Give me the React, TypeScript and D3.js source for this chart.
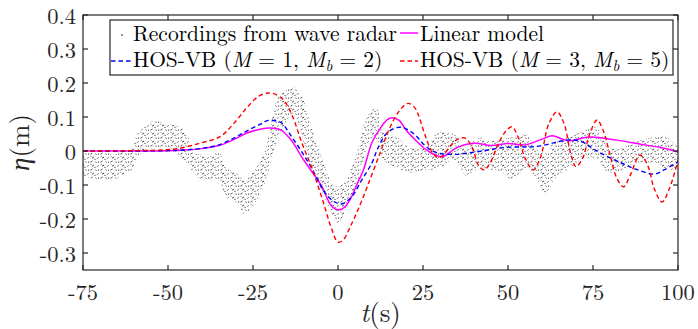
import React from "react";
import * as d3 from "d3";

// ---- data ----
const xTicks = [-75, -50, -25, 0, 25, 50, 75, 100];
const yTicks = [-0.3, -0.2, -0.1, 0, 0.1, 0.2, 0.3, 0.4];
const yTickLabels = ["-0.3", "-0.2", "-0.1", "0", "0.1", "0.2", "0.3", "0.4"];

// recordings from wave radar: envelope of the measured band
const recTime = [-75, -72, -69, -66, -63, -61, -59, -57, -54, -52, -50, -48, -46, -44, -42.5, -40, -37, -35, -33, -30, -27.5, -25, -23, -21.5, -19.5, -17.5, -15, -13.5, -12, -10.5, -7.5, -4.5, -2, 0, 2, 4, 6, 8, 10, 11.5, 13, 15, 17.5, 21, 24, 26, 28, 30, 32, 34, 36, 38, 40, 42, 45, 48, 51, 53, 55.5, 58, 61, 63.5, 67.5, 72, 75.5, 77.5, 79.5, 83.5, 87.5, 92.5, 96, 98, 100];
const recUpper = [0.0, -0.005, 0.0, -0.01, 0.0, 0.005, 0.05, 0.07, 0.09, 0.085, 0.08, 0.075, 0.07, 0.04, -0.005, -0.01, -0.01, 0.0, -0.05, -0.06, -0.085, -0.06, -0.03, 0.0, 0.09, 0.16, 0.18, 0.19, 0.18, 0.16, 0.06, -0.025, -0.09, -0.105, -0.09, -0.05, 0.01, 0.09, 0.12, 0.125, 0.06, 0.05, 0.04, 0.01, 0.01, 0.01, 0.04, 0.06, 0.055, 0.05, 0.03, 0.01, 0.03, 0.04, 0.03, 0.035, 0.04, 0.045, 0.05, 0.01, -0.005, 0.025, 0.04, 0.06, 0.07, 0.05, 0.01, 0.01, 0.03, 0.04, 0.045, 0.03, 0.01];
const recLower = [-0.075, -0.08, -0.085, -0.085, -0.07, -0.06, -0.02, 0.0, 0.01, 0.01, 0.01, 0.0, -0.02, -0.04, -0.065, -0.085, -0.085, -0.085, -0.135, -0.15, -0.185, -0.16, -0.13, -0.095, -0.025, 0.04, 0.09, 0.11, 0.09, 0.04, -0.05, -0.125, -0.18, -0.215, -0.18, -0.135, -0.085, -0.005, 0.04, 0.03, -0.02, -0.04, -0.05, -0.065, -0.06, -0.055, -0.055, -0.05, -0.035, -0.025, -0.05, -0.075, -0.06, -0.05, -0.055, -0.06, -0.085, -0.07, -0.05, -0.075, -0.125, -0.085, -0.055, -0.025, -0.02, -0.04, -0.065, -0.055, -0.035, -0.035, -0.05, -0.055, -0.055];

// linear model
const linTime = [-75, -60, -50, -45, -40, -35, -31, -27, -23, -20, -17, -14, -10, -5, -2, 0, 2, 3.5, 5.5, 7.5, 10, 12.5, 14.5, 16, 18, 20, 22, 26, 29.5, 31, 35, 40, 45, 50, 55, 60, 63, 66, 68, 74, 82, 89, 95, 100];
const linEta = [0, 0, 0.001, 0.003, 0.007, 0.016, 0.032, 0.052, 0.064, 0.068, 0.063, 0.035, -0.028, -0.1, -0.16, -0.173, -0.165, -0.144, -0.1, -0.055, 0.025, 0.068, 0.092, 0.098, 0.09, 0.062, 0.04, 0.003, -0.015, -0.016, 0.01, 0.023, 0.016, 0.022, 0.018, 0.035, 0.045, 0.035, 0.03, 0.041, 0.032, 0.02, 0.01, -0.003];

// HOS-VB (M = 1, Mb = 2)
const hos1Time = [-75, -60, -50, -45, -40, -35, -31, -27, -23, -20.5, -18, -16.5, -13.5, -10.5, -7.5, -4, -1, 1.2, 4, 7, 10, 11.5, 14.4, 18.2, 22, 26, 29, 34, 39, 44, 48.5, 53.5, 57, 61, 65, 68.5, 72, 75.6, 79.4, 84.4, 88, 93, 96, 100];
const hos1Eta = [0, 0, 0.001, 0.003, 0.008, 0.018, 0.036, 0.058, 0.078, 0.09, 0.088, 0.082, 0.04, -0.005, -0.055, -0.12, -0.15, -0.155, -0.135, -0.085, -0.035, 0.003, 0.053, 0.07, 0.053, 0.012, -0.005, -0.01, -0.005, 0.003, 0.01, 0.012, 0.012, 0.018, 0.028, 0.033, 0.026, 0.003, -0.017, -0.04, -0.055, -0.068, -0.055, -0.032];

// HOS-VB (M = 3, Mb = 5)
const hos3Time = [-75, -60, -50, -46.5, -40.6, -34.7, -30.9, -27, -23.5, -21, -19.4, -16.2, -13.5, -10.6, -7.5, -4.5, -2, 0, 1.5, 3.5, 6, 8.8, 12.4, 15.3, 18.2, 20.6, 22.6, 25.6, 27.5, 29.4, 31, 33, 35.3, 37.4, 39.5, 41.2, 43, 45, 47, 49.5, 51.2, 53, 55, 57.4, 59.5, 62, 64.4, 66.5, 68.5, 70, 72, 74, 76.2, 78, 80, 82, 84, 86, 88.8, 91, 93, 95.3, 97.5, 100];
const hos3Eta = [0, 0.001, 0.004, 0.008, 0.023, 0.042, 0.078, 0.125, 0.16, 0.17, 0.17, 0.152, 0.105, 0.023, -0.055, -0.145, -0.225, -0.268, -0.262, -0.225, -0.17, -0.1, -0.005, 0.07, 0.12, 0.14, 0.127, 0.047, 0.0, -0.02, -0.012, 0.015, 0.035, 0.038, 0.01, -0.04, -0.056, -0.03, 0.018, 0.06, 0.071, 0.04, -0.02, -0.056, -0.02, 0.08, 0.115, 0.08, -0.01, -0.046, -0.02, 0.05, 0.091, 0.06, -0.01, -0.08, -0.105, -0.07, -0.012, -0.04, -0.11, -0.15, -0.11, -0.027];

// ---- layout ----
const W = 698, H = 329;
const L = 83, R = 678, T = 15, B = 270;
const FONT = '"Latin Modern Roman"';
const AX = "#262626";

export default function App() {
  const x = d3.scaleLinear().domain([-75, 100]).range([L, R]);
  const y = d3.scaleLinear().domain([-0.35, 0.4]).range([B, T]);

  const lineGen = d3
    .line<[number, number]>()
    .x((d) => x(d[0]))
    .y((d) => y(d[1]))
    .curve(d3.curveCatmullRom.alpha(0.5));

  const zip = (t: number[], v: number[]) => t.map((ti, i) => [ti, v[i]] as [number, number]);

  const band = d3
    .area<number>()
    .x((_, i) => x(recTime[i]))
    .y0((_, i) => y(recLower[i]))
    .y1((_, i) => y(recUpper[i]))
    .curve(d3.curveCatmullRom.alpha(0.5));

  const tick = 5;
  const txt = { fontFamily: FONT };
  const LF = 21.5;

  return (
    <svg width={W} height={H} style={{ position: "absolute", left: 0, top: 0, background: "#fff" }}>
      <defs>
        <clipPath id="plotClip">
          <rect x={L} y={T} width={R - L} height={B - T} />
        </clipPath>
        <pattern id="recPat" width="10" height="8" patternUnits="userSpaceOnUse">
          <line x1="0.5" y1="2.2" x2="2.6" y2="1" stroke="#444" strokeWidth="0.9" />
          <line x1="5" y1="1.4" x2="7" y2="2.8" stroke="#888" strokeWidth="0.9" />
          <line x1="2" y1="6.2" x2="4.1" y2="5" stroke="#333" strokeWidth="0.9" />
          <line x1="6.8" y1="6.6" x2="8.9" y2="5.4" stroke="#777" strokeWidth="0.9" />
          <circle cx="8.6" cy="2" r="0.6" fill="#000" />
          <circle cx="5" cy="7.3" r="0.55" fill="#000" />
          <circle cx="1" cy="4.3" r="0.5" fill="#555" />
        </pattern>
      </defs>
      <rect x={0} y={0} width={W} height={H} fill="#fff" />

      <g clipPath="url(#plotClip)">
        <path d={band(recTime) || ""} fill="url(#recPat)" stroke="none" />
        <path d={lineGen(zip(linTime, linEta)) || ""} fill="none" stroke="#ff00ff" strokeWidth={1.5} />
        <path d={lineGen(zip(hos1Time, hos1Eta)) || ""} fill="none" stroke="#0000ff" strokeWidth={1.4} strokeDasharray="4.5,3" />
        <path d={lineGen(zip(hos3Time, hos3Eta)) || ""} fill="none" stroke="#ff0000" strokeWidth={1.4} strokeDasharray="4.5,3" />
      </g>

      {/* axes box */}
      <rect x={L} y={T} width={R - L} height={B - T} fill="none" stroke={AX} strokeWidth={1.2} />
      {xTicks.map((t) => (
        <g key={"x" + t}>
          <line x1={x(t)} x2={x(t)} y1={B} y2={B - tick} stroke={AX} strokeWidth={1.2} />
          <line x1={x(t)} x2={x(t)} y1={T} y2={T + tick} stroke={AX} strokeWidth={1.2} />
          <text style={txt} x={x(t)} y={300} fontSize={22.5} textAnchor="middle" fill="#262626">{t}</text>
        </g>
      ))}
      {yTicks.map((v, i) => (
        <g key={"y" + i}>
          <line x1={L} x2={L + tick} y1={y(v)} y2={y(v)} stroke={AX} strokeWidth={1.2} />
          <line x1={R} x2={R - tick} y1={y(v)} y2={y(v)} stroke={AX} strokeWidth={1.2} />
          <text style={txt} x={76} y={y(v) + 8.5} fontSize={22.5} textAnchor="end" fill="#262626">{yTickLabels[i]}</text>
        </g>
      ))}

      {/* axis labels */}
      <text style={txt} x={(L + R) / 2} y={322} fontSize={27} textAnchor="middle" fill="#262626">
        <tspan fontStyle="italic">t</tspan>(s)
      </text>
      <text style={txt} transform={`translate(29, ${(T + B) / 2}) rotate(-90)`} fontSize={27} textAnchor="middle" fill="#262626">
        <tspan fontStyle="italic">η</tspan>(m)
      </text>

      {/* legend */}
      <rect x={110} y={20} width={563} height={55} fill="#fff" stroke={AX} strokeWidth={1.2} />
      <circle cx={122} cy={35} r={0.8} fill="#000" />
      <text style={txt} x={133} y={40.5} fontSize={LF} fill="#000">Recordings from wave radar</text>
      <line x1={400} x2={418} y1={33} y2={33} stroke="#ff00ff" strokeWidth={1.5} />
      <text style={txt} x={420} y={40.5} fontSize={LF} fill="#000">Linear model</text>
      <line x1={111} x2={131} y1={61} y2={61} stroke="#0000ff" strokeWidth={1.4} strokeDasharray="4.5,3" />
      <text style={txt} x={133} y={67} fontSize={LF} fill="#000">
        HOS-VB (<tspan fontStyle="italic">M</tspan> = 1, <tspan fontStyle="italic">M</tspan>
        <tspan fontStyle="italic" fontSize={15} dy={4}>b</tspan>
        <tspan dy={-4}> = 2)</tspan>
      </text>
      <line x1={400} x2={418} y1={61} y2={61} stroke="#ff0000" strokeWidth={1.4} strokeDasharray="4.5,3" />
      <text style={txt} x={420} y={67} fontSize={LF} fill="#000">
        HOS-VB (<tspan fontStyle="italic">M</tspan> = 3, <tspan fontStyle="italic">M</tspan>
        <tspan fontStyle="italic" fontSize={15} dy={4}>b</tspan>
        <tspan dy={-4}> = 5)</tspan>
      </text>
    </svg>
  );
}
